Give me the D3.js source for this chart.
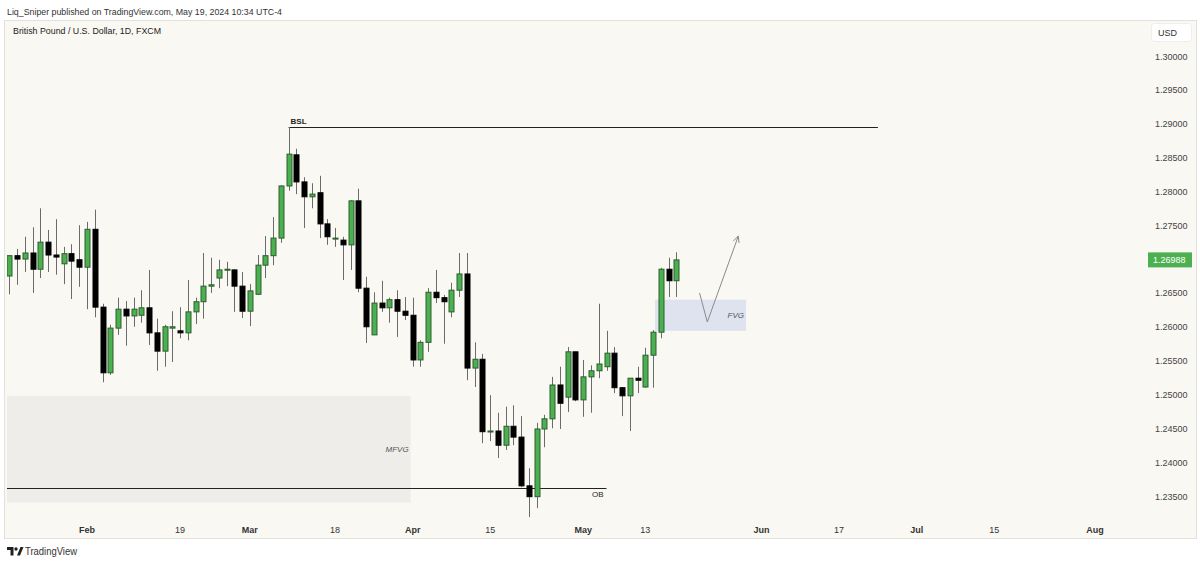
<!DOCTYPE html>
<html><head><meta charset="utf-8">
<script src="https://cdn.jsdelivr.net/npm/d3@7"></script>
<style>body{margin:0;background:#fff;} svg{display:block;font-family:"Liberation Sans",Arial,sans-serif;}</style>
</head><body><svg id="c" width="1200" height="565"></svg>
<script>
// ---- data ----
const firstBarDate = "2024-01-18"; // bars are consecutive weekdays from here
const open = [
1.2675,1.2705,1.2700,1.2709,1.2685,1.2725,1.2706,1.2693,1.2708,1.2699,
1.2688,1.2744,1.2629,1.2532,1.2598,1.2626,1.2616,1.2617,1.2628,1.2591,
1.2564,1.2598,1.2594,1.2591,1.2622,1.2637,1.2660,1.2672,1.2684,1.2684,1.2660,
1.2623,1.2648,1.2691,1.2705,1.2731,1.2808,1.2854,1.2814,1.2792,1.2798,1.2752,
1.2730,1.2728,1.2721,1.2786,1.2657,1.2588,1.2635,1.2628,1.2640,1.2623,
1.2617,1.2551,1.2577,1.2651,1.2643,1.2622,1.2654,1.2678,1.2539,1.2552,
1.2445,1.2446,1.2425,1.2453,1.2437,1.2365,1.2349,1.2449,1.2464,1.2514,1.2496,1.2563,
1.2492,1.2526,1.2535,1.2541,1.2561,1.2510,1.2498,1.2524,1.2511,1.2558,1.2592,1.2685,1.2668];
const high = [
1.2706,1.2715,1.2733,1.2747,1.2775,1.2743,1.2759,1.2718,1.2722,1.2750,
1.2755,1.2773,1.2634,1.2603,1.2643,1.2638,1.2643,1.2654,1.2684,1.2612,
1.2603,1.2623,1.2629,1.2669,1.2643,1.2709,1.2702,1.2699,1.2696,1.2685,1.2681,
1.2663,1.2706,1.2734,1.2762,1.2809,1.2895,1.2863,1.2821,1.2812,1.2823,1.2759,
1.2746,1.2733,1.2787,1.2804,1.2674,1.2651,1.2668,1.2643,1.2654,1.2644,
1.2643,1.2580,1.2657,1.2684,1.2647,1.2665,1.2709,1.2709,1.2577,1.2560,
1.2499,1.2473,1.2482,1.2484,1.2468,1.2391,1.2458,1.2470,1.2526,1.2541,1.2570,1.2563,
1.2551,1.2543,1.2634,1.2594,1.2570,1.2511,1.2524,1.2541,1.2569,1.2595,1.2687,1.2702,1.2710];
const low = [
1.2648,1.2662,1.2681,1.2650,1.2672,1.2681,1.2677,1.2663,1.2641,1.2659,
1.2626,1.2614,1.2518,1.2529,1.2588,1.2572,1.2600,1.2606,1.2573,1.2535,
1.2541,1.2548,1.2583,1.2580,1.2604,1.2612,1.2650,1.2657,1.2660,1.2622,1.2613,
1.2601,1.2647,1.2672,1.2691,1.2724,1.2801,1.2796,1.2746,1.2775,1.2731,1.2721,
1.2718,1.2669,1.2684,1.2651,1.2576,1.2588,1.2622,1.2606,1.2585,1.2610,
1.2541,1.2541,1.2563,1.2635,1.2575,1.2614,1.2644,1.2521,1.2511,1.2428,
1.2431,1.2406,1.2418,1.2425,1.2363,1.2319,1.2332,1.2422,1.2450,1.2449,1.2474,1.2490,
1.2467,1.2473,1.2524,1.2535,1.2502,1.2468,1.2446,1.2502,1.2510,1.2510,1.2583,1.2644,1.2644];
const close = [
1.2705,1.2700,1.2709,1.2685,1.2725,1.2706,1.2703,1.2708,1.2697,1.2688,
1.2744,1.2629,1.2532,1.2598,1.2626,1.2616,1.2626,1.2628,1.2591,1.2564,
1.2600,1.2600,1.2591,1.2622,1.2637,1.2660,1.2662,1.2684,1.2685,1.2660,1.2623,
1.2653,1.2691,1.2705,1.2731,1.2808,1.2855,1.2814,1.2792,1.2796,1.2752,1.2733,
1.2731,1.2721,1.2786,1.2657,1.2600,1.2635,1.2628,1.2640,1.2623,1.2617,
1.2551,1.2577,1.2651,1.2643,1.2637,1.2654,1.2678,1.2539,1.2552,1.2445,
1.2446,1.2425,1.2453,1.2437,1.2365,1.2349,1.2449,1.2464,1.2514,1.2487,1.2563,1.2492,
1.2526,1.2535,1.2545,1.2561,1.2510,1.2498,1.2524,1.2521,1.2558,1.2592,1.2685,1.2668,1.26988];

const priceTicks = [1.235,1.24,1.245,1.25,1.255,1.26,1.265,1.27,1.275,1.28,1.285,1.29,1.295,1.30];
const timeTickDates = ["2024-02-01","2024-02-19","2024-03-01","2024-03-18","2024-04-01","2024-04-15","2024-05-01","2024-05-13","2024-06-03","2024-06-17","2024-07-01","2024-07-15","2024-08-01"];
const timeTickLabels = ["Feb","19","Mar","18","Apr","15","May","13","Jun","17","Jul","15","Aug"];
const timeTickIsMonth = [true,false,true,false,true,false,true,false,true,false,true,false,true];

const bslLine = {label:"BSL", price:1.2895, from:"2024-03-08", to:"2024-06-24"};
const obLine = {label:"OB", price:1.2362, from:"2024-01-01", to:"2024-05-06"};
const mfvgBox = {label:"MFVG", top:1.2498, bottom:1.2340, from:"2024-01-01", to:"2024-04-01"};
const fvgBox = {label:"FVG", top:1.2640, bottom:1.2594, from:"2024-05-14", to:"2024-05-30"};
const arrowDates = ["2024-05-22","2024-05-23","2024-05-29"];
const arrowPrices = [1.2650, 1.2607, 1.2734];

const headerText = "Liq_Sniper published on TradingView.com, May 19, 2024 10:34 UTC-4";
const titleText = "British Pound / U.S. Dollar, 1D, FXCM";
const currency = "USD";

// ---- helpers ----
const refMonday = new Date(Date.UTC(2024,0,15));
function tdIndex(s){
  const [y,m,d] = s.split("-").map(Number);
  const days = Math.round((Date.UTC(y,m-1,d) - refMonday)/86400000);
  const w = Math.floor(days/7), r = ((days%7)+7)%7;
  return w*5 + Math.min(r,5);
}
const startIdx = tdIndex(firstBarDate);
const bars = open.map((o,i)=>({i:startIdx+i,o,h:high[i],l:low[i],c:close[i]}));

// ---- layout ----
const svg = d3.select("#c");
const W=1200,H=565;
const panel = {x:4,y:20,w:1193,h:519};
const plot = {l:6,r:1143,t:20,b:517};

const x = d3.scaleLinear().domain([tdIndex("2024-02-01"), tdIndex("2024-08-01")]).range([87,1095]);
const y = d3.scaleLinear().domain([1.235,1.30]).range([496,56]);

svg.append("rect").attr("width",W).attr("height",H).attr("fill","#fff");
svg.append("text").attr("x",7).attr("y",15).attr("font-size",9.5).attr("fill","#333")
  .attr("textLength",275).attr("lengthAdjust","spacingAndGlyphs").text(headerText);
svg.append("rect").attr("x",panel.x+0.5).attr("y",panel.y+0.5).attr("width",panel.w-1).attr("height",panel.h-1)
  .attr("fill","#faf8f3").attr("stroke","#e3e1dc");

svg.append("defs").append("clipPath").attr("id","pc").append("rect")
  .attr("x",plot.l+1).attr("y",plot.t+1).attr("width",plot.r-plot.l-1).attr("height",plot.b-plot.t-1);
const g = svg.append("g").attr("clip-path","url(#pc)");

// MFVG box
g.append("rect").attr("x",x(tdIndex(mfvgBox.from))).attr("y",y(mfvgBox.top))
  .attr("width",x(tdIndex(mfvgBox.to))-x(tdIndex(mfvgBox.from))-2).attr("height",y(mfvgBox.bottom)-y(mfvgBox.top))
  .attr("fill","#efedea");
g.append("text").attr("x",x(tdIndex(mfvgBox.to))-4).attr("y",y((mfvgBox.top+mfvgBox.bottom)/2)+3)
  .attr("text-anchor","end").attr("font-size",8).attr("font-style","italic").attr("fill","#555").text(mfvgBox.label);

// FVG box
g.append("rect").attr("x",x(tdIndex(fvgBox.from))+2).attr("y",y(fvgBox.top))
  .attr("width",x(tdIndex(fvgBox.to))-x(tdIndex(fvgBox.from))-2).attr("height",y(fvgBox.bottom)-y(fvgBox.top))
  .attr("fill","#dfe2ef");
g.append("text").attr("x",x(tdIndex(fvgBox.to))-2).attr("y",y((fvgBox.top+fvgBox.bottom)/2)+3)
  .attr("text-anchor","end").attr("font-size",8).attr("font-style","italic").attr("fill","#555").text(fvgBox.label);

// OB line
g.append("line").attr("x1",x(tdIndex(obLine.from))).attr("x2",x(tdIndex(obLine.to)))
  .attr("y1",Math.round(y(obLine.price))+0.5).attr("y2",Math.round(y(obLine.price))+0.5).attr("stroke","#222").attr("stroke-width",1);
g.append("text").attr("x",x(tdIndex(obLine.to))-3).attr("y",y(obLine.price)+9)
  .attr("text-anchor","end").attr("font-size",8).attr("fill","#222").text(obLine.label);

// BSL line
g.append("line").attr("x1",x(tdIndex(bslLine.from))).attr("x2",x(tdIndex(bslLine.to)))
  .attr("y1",Math.round(y(bslLine.price))+0.5).attr("y2",Math.round(y(bslLine.price))+0.5).attr("stroke","#222").attr("stroke-width",1);
g.append("text").attr("x",x(tdIndex(bslLine.from))+2).attr("y",y(bslLine.price)-3)
  .attr("font-size",8).attr("font-weight","bold").attr("fill","#222").text(bslLine.label);

// candles
const bw = 5;
const cg = g.append("g");
cg.selectAll("line.w").data(bars).join("line").attr("class","w")
  .attr("x1",d=>Math.round(x(d.i))+0.5).attr("x2",d=>Math.round(x(d.i))+0.5)
  .attr("y1",d=>y(d.h)).attr("y2",d=>y(d.l)).attr("stroke","#6b6b6b").attr("stroke-width",1);
cg.selectAll("rect.b").data(bars).join("rect").attr("class","b")
  .attr("x",d=>Math.round(x(d.i))-bw/2+0.5).attr("width",bw)
  .attr("y",d=>y(Math.max(d.o,d.c))).attr("height",d=>Math.max(1,Math.abs(y(d.o)-y(d.c))))
  .attr("fill",d=>d.c>=d.o?"#4caf50":"#000").attr("stroke",d=>d.c>=d.o?"#2c5e2e":"#000").attr("stroke-width",1);

// arrow
const ap = arrowDates.map((d,i)=>[x(tdIndex(d)), y(arrowPrices[i])]);
g.append("path").attr("d",d3.line()(ap)).attr("fill","none").attr("stroke","#8a8a8a").attr("stroke-width",1);
{
  const [x1,y1]=ap[1],[x2,y2]=ap[2];
  const ang=Math.atan2(y2-y1,x2-x1), L=7;
  const a1=ang+Math.PI-0.45, a2=ang+Math.PI+0.45;
  g.append("path").attr("d",`M${x2+L*Math.cos(a1)},${y2+L*Math.sin(a1)}L${x2},${y2}L${x2+L*Math.cos(a2)},${y2+L*Math.sin(a2)}`)
    .attr("fill","none").attr("stroke","#8a8a8a").attr("stroke-width",1);
}

// title
svg.append("text").attr("x",13).attr("y",34).attr("font-size",9.5).attr("fill","#222")
  .attr("textLength",148).attr("lengthAdjust","spacingAndGlyphs").text(titleText);

// price axis
svg.append("rect").attr("x",1151.5).attr("y",23.5).attr("width",40).attr("height",18).attr("rx",3)
  .attr("fill","#fff").attr("stroke","#eeeeee");
svg.append("text").attr("x",1158).attr("y",35.5).attr("font-size",9).attr("fill","#333").text(currency);
svg.append("g").selectAll("text").data(priceTicks).join("text")
  .attr("x",1155).attr("y",d=>y(d)+3.5).attr("font-size",9).attr("fill","#444").text(d3.format(".5f"));
const last = close[close.length-1];
svg.append("rect").attr("x",1148).attr("y",y(last)-7.5).attr("width",44).attr("height",15).attr("fill","#4caf50");
svg.append("text").attr("x",1153).attr("y",y(last)+3.5).attr("font-size",9).attr("fill","#fff").text(d3.format(".5f")(last));

// time axis
svg.append("g").selectAll("text").data(timeTickDates).join("text")
  .attr("x",d=>x(tdIndex(d))).attr("y",532.5).attr("text-anchor","middle").attr("font-size",9)
  .attr("font-weight",(d,i)=>timeTickIsMonth[i]?"bold":"normal").attr("fill","#333")
  .text((d,i)=>timeTickLabels[i]);

// footer logo
const lg = svg.append("g").attr("fill","#222");
lg.append("path").attr("d","M7,547 h6.5 v8.5 h-3 v-5.5 h-3.5z");
lg.append("circle").attr("cx",16).attr("cy",549).attr("r",1.7);
lg.append("path").attr("d","M17,555.5 L20.5,547 h3 L20,555.5z");
svg.append("text").attr("x",25).attr("y",555).attr("font-size",10).attr("fill","#333")
  .attr("textLength",52).attr("lengthAdjust","spacingAndGlyphs").text("TradingView");
</script></body></html>
